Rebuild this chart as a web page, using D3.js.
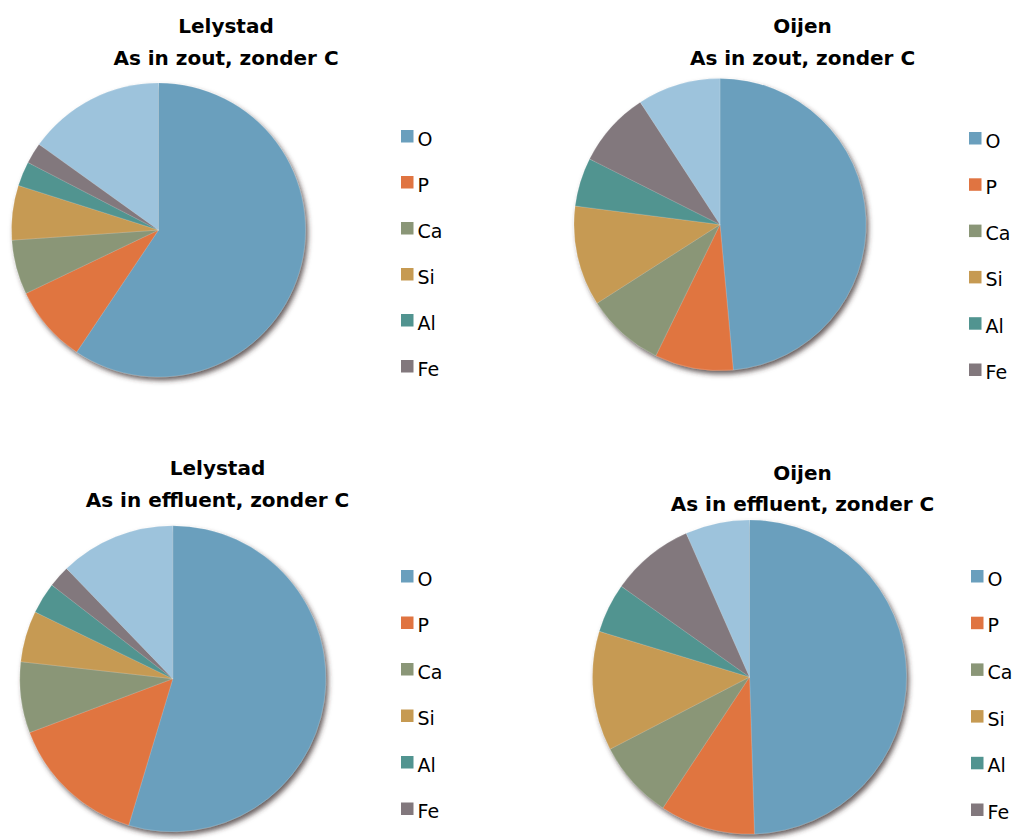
<!DOCTYPE html>
<html>
<head>
<meta charset="utf-8">
<script src="https://cdn.jsdelivr.net/npm/d3@7"></script>
<style>
  html, body { margin: 0; padding: 0; background: #ffffff; }
  svg { display: block; }
</style>
</head>
<body>
<svg id="chart" width="1020" height="839"></svg>
<script>
// Element composition of ash (zonder C), share per element in %
const elements = ["O", "P", "Ca", "Si", "Al", "Fe", "Overig"];
const legendElements = ["O", "P", "Ca", "Si", "Al", "Fe"];
const elementColors = ["#6a9fbd", "#e07441", "#8a9677", "#c69a52", "#519490", "#82787d", "#9dc3dc"];

const lelystadZout     = [59.4, 8.5, 6.0, 6.0, 2.7, 2.3, 15.1];
const oijenZout        = [48.6, 8.7, 8.7, 11.1, 5.4, 8.4, 9.2];
const lelystadEffluent = [54.6, 14.6, 7.5, 5.4, 3.3, 2.3, 12.2];
const oijenEffluent    = [49.5, 9.8, 8.1, 12.3, 5.1, 8.6, 6.6];

const titles = [
  ["Lelystad", "As in zout, zonder C"],
  ["Oijen", "As in zout, zonder C"],
  ["Lelystad", "As in effluent, zonder C"],
  ["Oijen", "As in effluent, zonder C"]
];
const seriesList = [lelystadZout, oijenZout, lelystadEffluent, oijenEffluent];

// Panel layout: pie centre/radius, title anchor, legend anchor
const panels = [
  { cx: 158.5, cy: 230,   r: 147, tx: 226,   ty: [33, 65],   lx: 401, ly: 130, step: 46.0 },
  { cx: 720,   cy: 224.5, r: 146, tx: 802.5, ty: [33, 65],   lx: 969, ly: 132, step: 46.3 },
  { cx: 172.8, cy: 678.7, r: 153, tx: 217.5, ty: [475, 507], lx: 401, ly: 570, step: 46.5 },
  { cx: 749.5, cy: 677,   r: 157, tx: 802.5, ty: [480, 511], lx: 971, ly: 570, step: 46.7 }
];

const svg = d3.select("#chart");

const defs = svg.append("defs");
const shadow = defs.append("filter").attr("id", "pieShadow")
  .attr("x", "-10%").attr("y", "-10%").attr("width", "125%").attr("height", "125%");
shadow.append("feDropShadow")
  .attr("dx", 2.5).attr("dy", 3.5).attr("stdDeviation", 2.5)
  .attr("flood-color", "#3b2e2e").attr("flood-opacity", 0.75);

const color = d3.scaleOrdinal().domain(elements).range(elementColors);

const pie = d3.pie()
  .sort(null)
  .value(d => d.value)
  .startAngle(0)
  .endAngle(2 * Math.PI);

panels.forEach((p, i) => {
  const data = elements.map((e, k) => ({ name: e, value: seriesList[i][k] }));
  const arc = d3.arc().innerRadius(0).outerRadius(p.r);

  const g = svg.append("g").attr("transform", `translate(${p.cx},${p.cy})`);
  g.append("g")
    .attr("filter", "url(#pieShadow)")
    .selectAll("path")
    .data(pie(data))
    .join("path")
    .attr("d", arc)
    .attr("fill", d => color(d.data.name))
    .attr("stroke", "rgba(255,255,255,0.25)")
    .attr("stroke-width", 0.6);

  // Title (two lines)
  const t = svg.append("text")
    .attr("text-anchor", "middle")
    .attr("font-family", "'DejaVu Sans', sans-serif")
    .attr("font-weight", "bold")
    .attr("font-size", 20)
    .attr("fill", "#000");
  titles[i].forEach((line, j) => {
    t.append("tspan").attr("x", p.tx).attr("y", p.ty[j]).text(line);
  });

  // Legend
  const lg = svg.append("g").attr("transform", `translate(${p.lx},${p.ly})`);
  const rows = lg.selectAll("g")
    .data(legendElements)
    .join("g")
    .attr("transform", (d, k) => `translate(0,${k * p.step})`);
  rows.append("rect")
    .attr("width", 12.5).attr("height", 12.5)
    .attr("fill", d => color(d));
  rows.append("text")
    .attr("x", 16.5).attr("y", 15.5)
    .attr("font-family", "'DejaVu Sans', sans-serif")
    .attr("font-size", 19)
    .attr("fill", "#000")
    .text(d => d);
});
</script>
</body>
</html>
